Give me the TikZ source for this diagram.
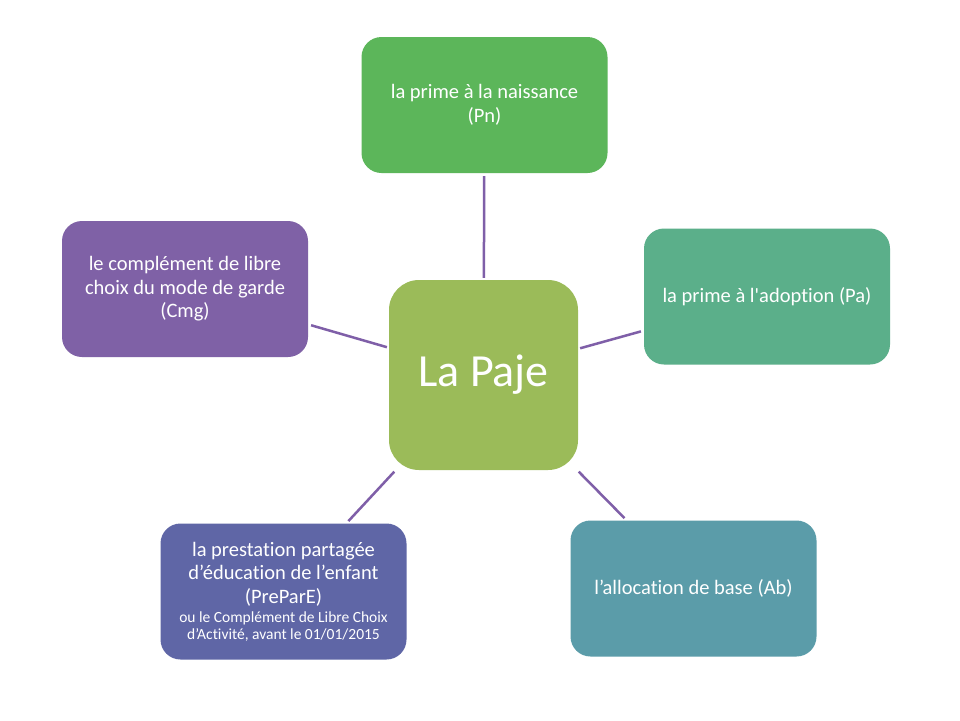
\documentclass[tikz,border=0pt]{standalone}
\usepackage{fontspec}
\setmainfont{Carlito}[Ligatures={NoCommon}]
\definecolor{cTop}{HTML}{5CB65A}
\definecolor{cRight}{HTML}{5BAF8A}
\definecolor{cLeft}{HTML}{7F61A6}
\definecolor{cBL}{HTML}{5F66A6}
\definecolor{cBR}{HTML}{5B9CA9}
\definecolor{cCenter}{HTML}{9BBB59}
\definecolor{cLine}{HTML}{7F5FA8}
\newcommand{\smalltxt}{\fontsize{15.5}{17}\selectfont}
\begin{document}
\begin{tikzpicture}[x=1pt,y=-1pt,
  leaf/.style={rectangle, rounded corners=20pt, minimum width=246pt, minimum height=136pt,
    text=white, align=center, inner sep=0pt, font=\fontsize{20.5}{23.5}\selectfont},
  hub/.style={rectangle, rounded corners=30pt, minimum width=189pt, minimum height=190pt,
    fill=cCenter, text=white, inner sep=0pt, font=\fontsize{46}{50}\selectfont},
  link/.style={draw=cLine, line width=2.5pt, shorten <=2pt, shorten >=3pt}]
\fill[white] (0,0) rectangle (960,720);
\useasboundingbox (0,0) rectangle (960,720);
\node[hub] (c) at (483.5,375) {La Paje};
\node[leaf, fill=cTop] (top) at (484.5,105) {la prime à la naissance\\(Pn)};
\node[leaf, fill=cRight] (right) at (767,296.5) {la prime à l\textquotesingle adoption (Pa)};
\node[leaf, fill=cLeft] (left) at (185,289) {le complément de libre\\choix du mode de garde\\(Cmg)};
\node[leaf, fill=cBR] (br) at (693.5,588.5) {l’allocation de base (Ab)};
\node[leaf, fill=cBL] (bl) at (283.5,591.5) {la prestation partagée\\d’éducation de l’enfant\\(PreParE)\\[-4pt]
  \smalltxt ou le Complément de Libre Choix\\[-7pt]\smalltxt d’Activité, avant le 01/01/2015};
\draw[link] (c) -- (top);
\draw[link] (c) -- (right);
\draw[link] (c) -- (left);
\draw[link] (c) -- (br);
\draw[link] (c) -- (bl);
\end{tikzpicture}
\end{document}
